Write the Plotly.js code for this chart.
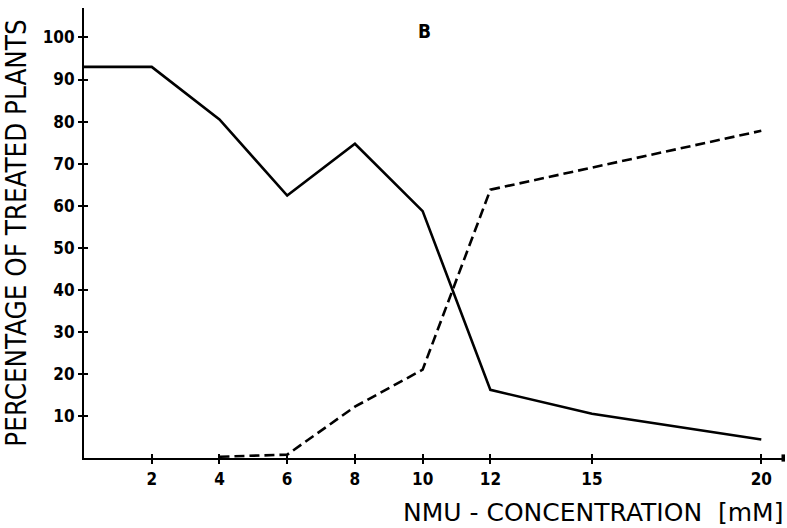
<!DOCTYPE html>
<html>
<head>
<meta charset="utf-8">
<script src="https://cdn.plot.ly/plotly-3.0.1.min.js"></script>
<style>html,body{margin:0;padding:0;background:#fff;}#chart{width:787px;height:528px;}</style>
</head>
<body>
<div id="chart"></div>
<script>
// Data
const concentration = [0, 2, 4, 6, 8, 10, 12, 15, 20];
const solidSeries = [93, 93, 80.5, 62.4, 74.7, 58.7, 16.2, 10.5, 4.4];
const dashedX = [4, 6, 8, 10, 12, 15, 20];
const dashedSeries = [0.3, 0.8, 12.2, 21, 63.8, 69, 77.8];
const xTickVals = [2, 4, 6, 8, 10, 12, 15, 20];
const yTickVals = [10, 20, 30, 40, 50, 60, 70, 80, 90, 100];
const panelLabel = 'B';
const xTitle = 'NMU - CONCENTRATION  [mM]';
const yTitle = 'PERCENTAGE OF TREATED PLANTS';

const fontCond = '"DejaVu Sans Condensed", "DejaVu Sans", sans-serif';
const fontReg = '"DejaVu Sans", sans-serif';

const traces = [
  {x: concentration, y: solidSeries, type: 'scatter', mode: 'lines',
   line: {color: '#000', width: 2.6}, hoverinfo: 'skip', cliponaxis: false},
  {x: dashedX, y: dashedSeries, type: 'scatter', mode: 'lines',
   line: {color: '#000', width: 2.6, dash: '10px,5px'}, hoverinfo: 'skip', cliponaxis: false},
  {x: [0], y: [0], xaxis: 'x2', yaxis: 'y2', mode: 'none', hoverinfo: 'skip', showlegend: false}
];

const tickFont = {size: 17, family: fontCond, weight: 'bold'};

const layout = {
  width: 787, height: 528,
  margin: {l: 84, r: 2, t: 8, b: 70},
  paper_bgcolor: '#fff', plot_bgcolor: '#fff',
  showlegend: false,
  font: {family: fontCond, color: '#000'},
  xaxis: {
    range: [0, 20.7], tickvals: xTickVals, ticktext: xTickVals.map(String),
    showgrid: false, zeroline: false, showline: true, linecolor: '#000', linewidth: 2,
    ticks: 'outside', ticklen: 4, tickwidth: 2, tickcolor: '#000',
    tickfont: tickFont, ticklabelstandoff: 1,
    fixedrange: true
  },
  yaxis: {
    range: [0, 107], tickvals: yTickVals, ticktext: yTickVals.map(String),
    showgrid: false, zeroline: false, showline: true, linecolor: '#000', linewidth: 2,
    ticks: 'outside', ticklen: 4, tickwidth: 2, tickcolor: '#000',
    tickfont: tickFont, ticklabelstandoff: 0,
    title: {text: yTitle, font: {size: 27.5, family: fontCond}, standoff: 10},
    fixedrange: true
  },
  xaxis2: {overlaying: 'x', range: [0, 20.7], tickvals: xTickVals, showticklabels: false,
    ticks: 'inside', ticklen: 4, tickwidth: 2, tickcolor: '#000', showgrid: false, zeroline: false,
    showline: false, side: 'bottom', fixedrange: true},
  yaxis2: {overlaying: 'y', range: [0, 107], tickvals: yTickVals, showticklabels: false,
    ticks: 'inside', ticklen: 4, tickwidth: 2, tickcolor: '#000', showgrid: false, zeroline: false,
    showline: false, side: 'left', fixedrange: true},
  annotations: [
    {text: '<b>' + panelLabel + '</b>', x: 10.05, y: 101.5, xref: 'x', yref: 'y',
     showarrow: false, font: {size: 19, family: fontCond, color: '#000'}},
    {text: xTitle, x: 1, xanchor: 'right', xref: 'paper', y: 0, yref: 'paper', yanchor: 'middle',
     yshift: -54, showarrow: false, font: {size: 25, family: fontReg, color: '#000'}}
  ],
  shapes: [
    {type: 'rect', xref: 'paper', yref: 'paper', x0: 0.995, x1: 1.0, y0: -0.008, y1: 0.008,
     fillcolor: '#000', line: {width: 0}}
  ]
};

Plotly.newPlot('chart', traces, layout, {displayModeBar: false, staticPlot: true});
</script>
</body>
</html>
